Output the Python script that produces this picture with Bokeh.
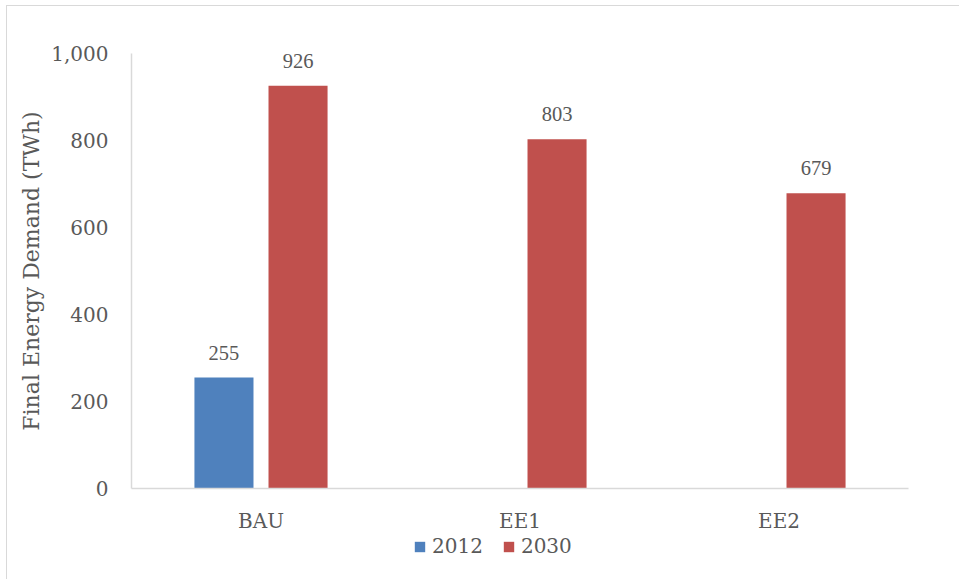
from bokeh.plotting import figure
from bokeh.layouts import column
from bokeh.models import ColumnDataSource, FactorRange, Range1d, Legend, LegendItem, LabelSet, NumeralTickFormatter
from bokeh.transform import dodge
from bokeh.embed import file_html
from bokeh.resources import INLINE

categories = ["BAU", "EE1", "EE2"]
series_names = ["2012", "2030"]
values_2012 = [255, None, None]
values_2030 = [926, 803, 679]
y_ticks = [0, 200, 400, 600, 800, 1000]

BLUE = "#4F81BD"
RED = "#C0504D"
TEXT = "#595959"
GRID = "#D9D9D9"
FONT = "DejaVu Serif"

p = figure(x_range=FactorRange(*categories, range_padding=0), y_range=Range1d(0, 1000),
           width=952, height=529, output_backend="svg", toolbar_location=None,
           min_border_left=124, min_border_top=47, min_border_bottom=45, min_border_right=51)
p.outline_line_color = None
p.xgrid.grid_line_color = None
p.ygrid.grid_line_color = None

x12 = [c for c, v in zip(categories, values_2012) if v is not None]
v12 = [v for v in values_2012 if v is not None]
src12 = ColumnDataSource(dict(x=x12, y=v12, lab=[f"{v:,}" for v in v12]))
src30 = ColumnDataSource(dict(x=categories, y=values_2030, lab=[f"{v:,}" for v in values_2030]))

off = 0.143
w = 0.228
p.vbar(x=dodge("x", -off, range=p.x_range), top="y", width=w, source=src12, fill_color=BLUE, line_color=None)
p.vbar(x=dodge("x", off, range=p.x_range), top="y", width=w, source=src30, fill_color=RED, line_color=None)

for src, o in ((src12, -off), (src30, off)):
    lbl = LabelSet(x=dodge("x", o, range=p.x_range), y="y", text="lab", source=src, y_offset=18,
                   text_align="center", text_baseline="alphabetic", text_font=FONT,
                   text_font_size="20.5px", text_color=TEXT)
    p.add_layout(lbl)

p.yaxis.ticker = y_ticks
p.yaxis.formatter = NumeralTickFormatter(format="0,0")
p.yaxis.axis_label = "Final Energy Demand (TWh)"
for ax in (p.xaxis[0], p.yaxis[0]):
    ax.axis_line_color = GRID
    ax.axis_line_width = 1.5
    ax.major_tick_line_color = None
    ax.minor_tick_line_color = None
    ax.major_tick_out = 0
    ax.major_tick_in = 0
    ax.major_label_text_font = FONT
    ax.major_label_text_font_size = "20px"
    ax.major_label_text_color = TEXT
    ax.axis_label_text_font = FONT
    ax.axis_label_text_font_size = "22px"
    ax.axis_label_text_font_style = "normal"
    ax.axis_label_text_color = TEXT
p.yaxis.major_label_standoff = 23
p.yaxis.axis_label_standoff = 4
p.xaxis.major_label_standoff = 20

# legend strip below the chart (its renderers are hidden, so only the legend shows)
leg = figure(x_range=p.x_range, y_range=Range1d(0, 1000), width=952, height=44,
             output_backend="svg", toolbar_location=None,
             x_axis_location=None, y_axis_location=None,
             min_border_left=0, min_border_right=0, min_border_top=0, min_border_bottom=0)
leg.outline_line_color = None
leg.xgrid.grid_line_color = None
leg.ygrid.grid_line_color = None
g12 = leg.vbar(x=dodge("x", -off, range=p.x_range), top="y", width=w, source=src12, fill_color=BLUE, line_color=None)
g30 = leg.vbar(x=dodge("x", off, range=p.x_range), top="y", width=w, source=src30, fill_color=RED, line_color=None)
g12.visible = False
g30.visible = False
legend = Legend(items=[LegendItem(label=series_names[0], renderers=[g12]),
                       LegendItem(label=series_names[1], renderers=[g30])],
                location=(282, 21), orientation="horizontal",
                border_line_color=None, background_fill_alpha=0, padding=0, margin=0,
                inactive_fill_alpha=0,
                glyph_width=13, glyph_height=13, label_standoff=6, spacing=19,
                label_text_font=FONT, label_text_font_size="20px", label_text_color=TEXT)
leg.add_layout(legend, "center")

layout = column(p, leg, spacing=0,
                styles={"margin-left": "6px", "margin-top": "5px",
                        "border-top": "1px solid #d9d9d9", "border-left": "1px solid #d9d9d9"})

open("out.html", "w").write(file_html(layout, INLINE))
